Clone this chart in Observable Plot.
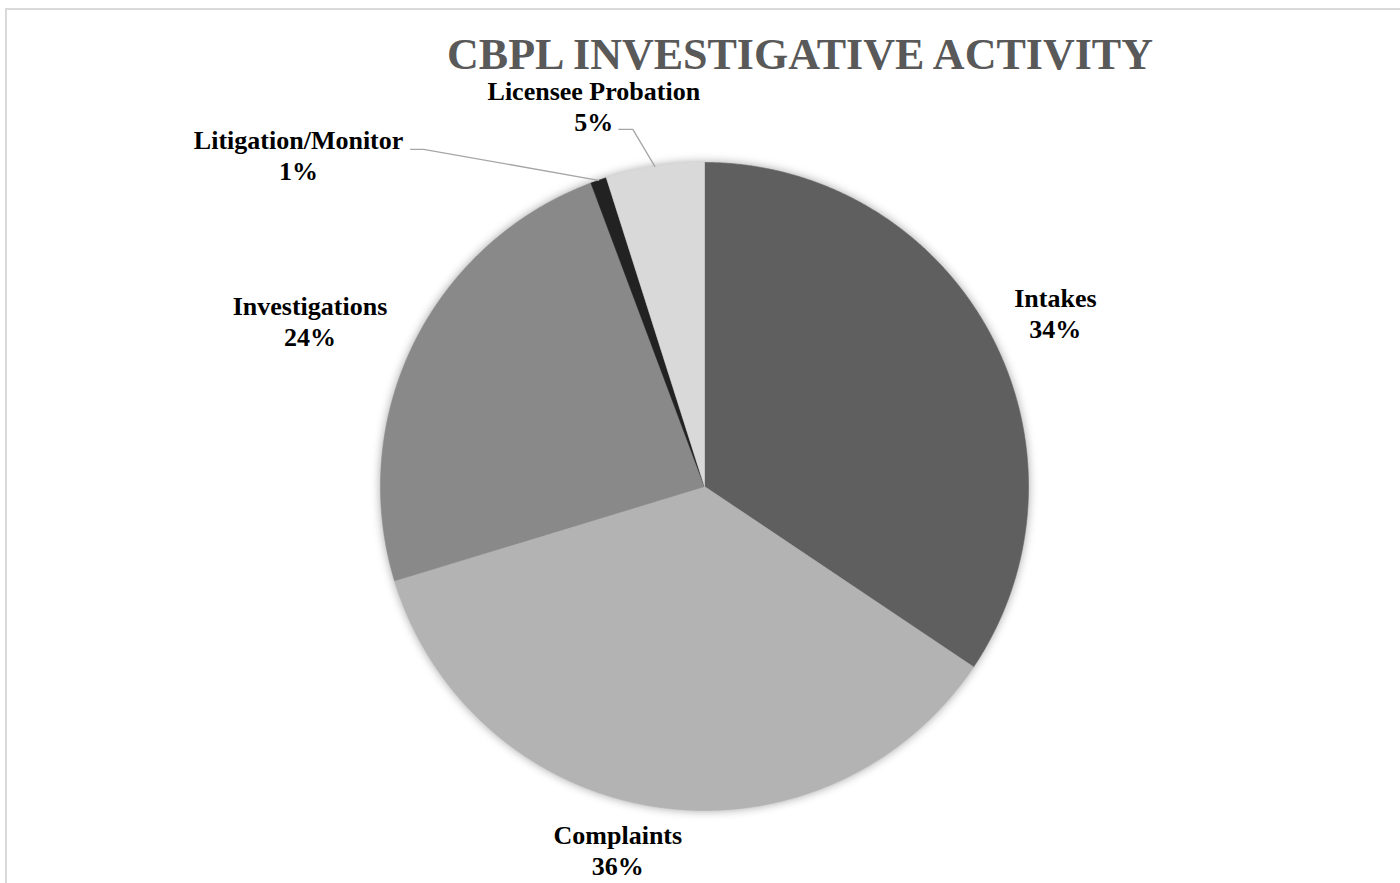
<!DOCTYPE html>
<html>
<head>
<meta charset="utf-8">
<script src="https://cdn.jsdelivr.net/npm/d3@7"></script>
<script src="https://cdn.jsdelivr.net/npm/@observablehq/plot@0.6"></script>
<style>
  html, body { margin: 0; padding: 0; background: #fff; overflow: hidden; }
  #wrap { position: relative; width: 1400px; height: 883px; overflow: hidden; }
  #border { position: absolute; left: 5px; top: 8px; width: 1420px; height: 900px; border: 2px solid #d9d9d9; box-sizing: border-box; }
  #title { position: absolute; left: 800px; top: 33px; transform: translateX(-50%); white-space: nowrap;
           font: bold 44px "Liberation Serif", "Times New Roman", serif; line-height: 44px; color: #595959; }
  #chart { position: absolute; left: 0; top: 0; }
</style>
</head>
<body>
<div id="wrap">
  <div id="border"></div>
  <div id="chart"></div>
  <div id="title">CBPL INVESTIGATIVE ACTIVITY</div>
</div>
<script>
// ---- Data ----
const categories = ["Intakes", "Complaints", "Investigations", "Litigation/Monitor", "Licensee Probation"];
const values = [34.4, 35.9, 24.0, 0.8, 4.9];
const colors = ["#5f5f5f", "#b3b3b3", "#898989", "#222222", "#d9d9d9"];

// ---- Layout (pixel nudges for label placement, relative to slice edge) ----
const R = 324; // pie radius in px (x/y scales: 2 units over 648 px)
const labelNudge = {
  "Intakes": [65, -21],
  "Complaints": [-39, 43],
  "Investigations": [-104, -22],
  "Litigation/Monitor": [-300, -26],
  "Licensee Probation": [-61, -61]
};
const leaderNudge = {
  "Litigation/Monitor": [[0, 0], [-175, -31], [-188, -31]],
  "Licensee Probation": [[0, 0], [-22, -37], [-36, -37]]
};

// ---- Build slices ----
const total = d3.sum(values);
let acc = 0;
const slices = categories.map((name, i) => {
  const a0 = acc / total * 2 * Math.PI;
  acc += values[i];
  const a1 = acc / total * 2 * Math.PI;
  return {name, value: values[i], pct: values[i] / total * 100, a0, a1, mid: (a0 + a1) / 2};
});

const piePts = [];
for (const s of slices) {
  piePts.push({name: s.name, x: 0, y: 0});
  const n = Math.max(2, Math.ceil((s.a1 - s.a0) / (Math.PI / 720)));
  for (let k = 0; k <= n; k++) {
    const a = s.a0 + (s.a1 - s.a0) * k / n;
    piePts.push({name: s.name, x: Math.sin(a), y: Math.cos(a)});
  }
  piePts.push({name: s.name, x: 0, y: 0});
}

const labels = slices.map(s => {
  const ex = Math.sin(s.mid), ey = Math.cos(s.mid);
  const [ox, oy] = labelNudge[s.name];
  return {name: s.name, x: ex + ox / R, y: ey - oy / R, text: `${s.name}\n${Math.round(s.pct)}%`};
});

const leaders = [];
for (const s of slices) {
  if (!leaderNudge[s.name]) continue;
  const ex = Math.sin(s.mid), ey = Math.cos(s.mid);
  for (const [ox, oy] of leaderNudge[s.name]) leaders.push({name: s.name, x: ex + ox / R, y: ey - oy / R});
}

const chart = Plot.plot({
  width: 1400,
  height: 883,
  marginLeft: 380,
  marginRight: 372,
  marginTop: 162,
  marginBottom: 73,
  x: {domain: [-1, 1], axis: null},
  y: {domain: [-1, 1], axis: null},
  color: {domain: categories, range: colors},
  style: {background: "transparent", overflow: "visible"},
  marks: [
    Plot.line(piePts, {x: "x", y: "y", z: "name", fill: "name", stroke: "name", strokeWidth: 0.6, curve: "linear"}),
    Plot.line(leaders, {x: "x", y: "y", z: "name", stroke: "#a6a6a6", strokeWidth: 1.3, curve: "linear"}),
    Plot.text(labels, {x: "x", y: "y", text: "text", fill: "#000", fontSize: 26, fontWeight: "bold",
                       fontFamily: "Liberation Serif, Times New Roman, serif", lineHeight: 1.19,
                       textAnchor: "middle", lineAnchor: "middle"})
  ]
});
document.getElementById("chart").appendChild(chart);
const pieG = chart.querySelector('g[aria-label="line"]');
if (pieG) pieG.style.filter = "drop-shadow(0px 0px 5px rgba(0,0,0,0.35))";
</script>
</body>
</html>
